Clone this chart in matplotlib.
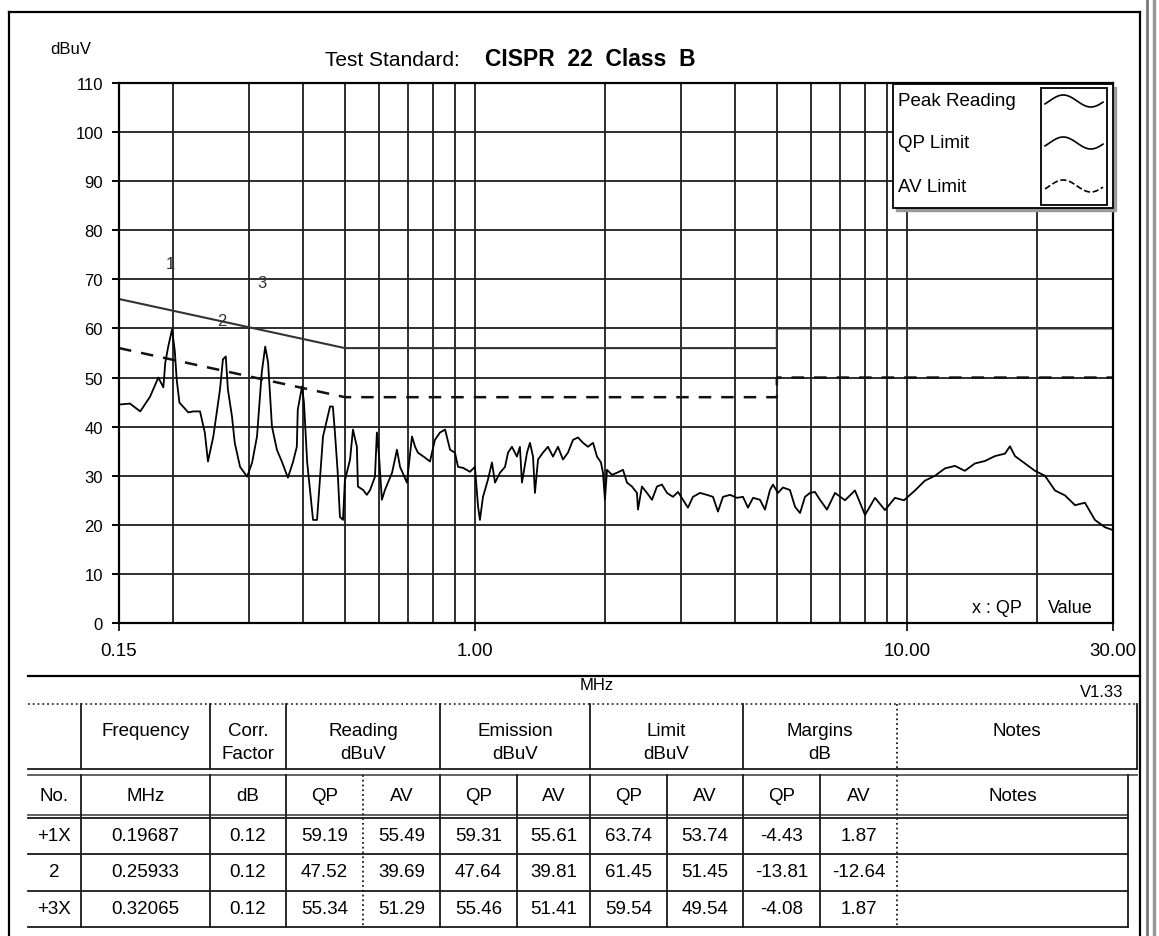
import numpy as np
import matplotlib
matplotlib.use('Agg')
import matplotlib.pyplot as plt
from matplotlib.ticker import LogLocator, NullFormatter

plt.rcParams['font.family'] = ['Liberation Sans', 'DejaVu Sans']

W, H = 1159, 937

# Peak reading trace (MHz, dBuV)
freq = [0.150, 0.159, 0.168, 0.177, 0.185, 0.190, 0.192, 0.195, 0.199, 0.202,
        0.204, 0.207, 0.211, 0.217, 0.223, 0.231, 0.237, 0.241, 0.248, 0.257,
        0.261, 0.265, 0.268, 0.274, 0.278, 0.286, 0.297, 0.305, 0.313, 0.321,
        0.327, 0.332, 0.339, 0.348, 0.358, 0.369, 0.379, 0.387, 0.389, 0.398,
        0.402, 0.409, 0.422, 0.431, 0.445, 0.462, 0.469, 0.474, 0.481, 0.487,
        0.495, 0.500, 0.514, 0.522, 0.533, 0.536, 0.551, 0.562, 0.572, 0.587,
        0.593, 0.600, 0.609, 0.619, 0.643, 0.660, 0.671, 0.696, 0.715, 0.727,
        0.738, 0.766, 0.787, 0.808, 0.830, 0.853, 0.876, 0.899, 0.914, 0.939,
        0.974, 1.000, 1.017, 1.027, 1.044, 1.072, 1.095, 1.113, 1.143, 1.174,
        1.193, 1.218, 1.251, 1.271, 1.285, 1.320, 1.341, 1.363, 1.377, 1.400,
        1.437, 1.476, 1.516, 1.557, 1.599, 1.642, 1.687, 1.732, 1.779, 1.827,
        1.877, 1.917, 1.958, 1.979, 2.000, 2.022, 2.076, 2.132, 2.202, 2.249,
        2.310, 2.372, 2.385, 2.436, 2.502, 2.570, 2.639, 2.710, 2.784, 2.874,
        2.952, 3.031, 3.113, 3.197, 3.319, 3.445, 3.557, 3.653, 3.752, 3.895,
        4.043, 4.174, 4.286, 4.404, 4.569, 4.693, 4.820, 4.898, 5.030, 5.165,
        5.361, 5.507, 5.657, 5.809, 5.965, 6.126, 6.292, 6.532, 6.816, 7.191,
        7.582, 8.000, 8.435, 8.897, 9.385, 9.846, 10.44, 11.01, 11.62, 12.25,
        12.92, 13.62, 14.37, 15.16, 15.99, 16.87, 17.32, 17.79, 18.77, 19.79,
        20.87, 22.02, 23.22, 24.50, 25.83, 27.24, 28.74, 29.83]
peak = [44.5, 44.7, 43.1, 46.1, 50.0, 48.0, 53.1, 56.3, 59.8, 55.3,
        49.6, 44.9, 44.1, 42.9, 43.1, 43.1, 38.8, 32.9, 38.0, 47.6,
        53.7, 54.3, 47.6, 42.0, 36.7, 31.8, 29.8, 32.7, 38.0, 51.0,
        56.3, 53.1, 40.0, 35.3, 32.7, 29.6, 32.7, 35.9, 43.5, 48.2,
        44.9, 32.7, 21.0, 21.0, 38.0, 44.1, 44.1, 39.0, 31.0, 21.6,
        21.0, 29.0, 33.3, 39.4, 35.9, 27.8, 27.1, 26.1, 27.1, 29.8,
        38.8, 33.9, 25.1, 27.1, 30.6, 35.3, 31.8, 28.6, 38.0, 35.9,
        34.7, 33.7, 32.9, 37.3, 38.8, 39.4, 35.3, 34.7, 31.8, 31.6,
        30.8, 31.8, 23.7, 21.0, 25.7, 29.2, 32.7, 28.6, 30.6, 31.8,
        34.7, 35.9, 33.9, 35.9, 28.6, 34.7, 36.7, 33.9, 26.5, 33.3,
        34.7, 35.9, 33.9, 35.9, 33.3, 34.7, 37.3, 37.8, 36.7, 35.9,
        36.7, 33.9, 32.7, 30.6, 25.1, 31.2, 30.2, 30.6, 31.2, 28.6,
        27.8, 26.5, 23.1, 27.8, 26.5, 25.1, 27.8, 28.2, 26.5, 25.7,
        26.7, 25.1, 23.5, 25.7, 26.5, 26.1, 25.7, 22.7, 25.7, 26.1,
        25.5, 25.7, 23.5, 25.5, 25.1, 23.1, 27.1, 28.2, 26.5, 27.6,
        27.1, 23.7, 22.4, 25.7, 26.5, 26.7, 25.1, 23.1, 26.5, 25.0,
        27.0, 22.0, 25.5, 23.0, 25.5, 25.0, 27.0, 29.0, 30.0, 31.5,
        32.0, 31.0, 32.5, 33.0, 34.0, 34.5, 36.0, 34.0, 32.5, 31.0,
        30.0, 27.0, 26.0, 24.0, 24.5, 21.0, 19.5, 19.0]

# CISPR 22 class B limits
lim_f = [0.15, 0.5, 0.5, 5, 5, 30]
qp_lim = [66, 56, 56, 56, 60, 60]
av_lim = [56, 46, 46, 46, 50, 50]

# marker table
mk_no = ['+1X', '2', '+3X']
mk_label = ['1', '2', '3']
mk_freq = [0.19687, 0.25933, 0.32065]
mk_corr = [0.12, 0.12, 0.12]
read_qp = [59.19, 47.52, 55.34]
read_av = [55.49, 39.69, 51.29]
emis_qp = [59.31, 47.64, 55.46]
emis_av = [55.61, 39.81, 51.41]
limit_qp = [63.74, 61.45, 59.54]
limit_av = [53.74, 51.45, 49.54]
marg_qp = [-4.43, -13.81, -4.08]
marg_av = [1.87, -12.64, 1.87]

yticks = list(range(0, 111, 10))
xticks = [0.15, 1, 10, 30]
xtick_labels = ['0.15', '1.00', '10.00', '30.00']


def px(x0, y0, x1, y1):
    return [x0 / W, 1 - y1 / H, (x1 - x0) / W, (y1 - y0) / H]


fig = plt.figure(figsize=(W / 100, H / 100), dpi=100)

# ---- main chart ----
ax = fig.add_axes(px(119, 84, 1113, 624))
ax.set_xscale('log')
ax.set_xlim(0.15, 30)
ax.set_ylim(0, 110)
ax.set_yticks(yticks)
ax.set_xticks(xticks)
ax.set_xticklabels(xtick_labels)
ax.xaxis.set_minor_locator(LogLocator(base=10, subs=range(2, 10)))
ax.xaxis.set_minor_formatter(NullFormatter())
ax.set_axisbelow(True)
ax.grid(which='both', axis='x', color='#1e1e1e', lw=1.3)
ax.grid(which='major', axis='y', color='#1e1e1e', lw=1.3)
ax.tick_params(axis='y', length=5, width=1.4, pad=6.5, labelsize=12)
ax.tick_params(axis='x', which='major', length=6, width=1.2, pad=8, labelsize=13.5)
ax.tick_params(axis='x', which='minor', length=0)
for s in ax.spines.values():
    s.set_linewidth(1.6)

ax.plot(lim_f, qp_lim, color='#333333', lw=1.5)
ax.plot(lim_f, av_lim, color='#111111', lw=1.8, dashes=(5, 4))
ax.plot(freq, peak, color='black', lw=1.3)

for f, q, lab in zip(mk_freq, emis_qp, mk_label):
    ax.text(f, q + 14, lab, fontsize=12, color='#333333', ha='center', va='center')

# ---- overlay in pixel coordinates ----
ov = fig.add_axes([0, 0, 1, 1])
ov.set_xlim(0, W)
ov.set_ylim(H, 0)
ov.axis('off')
ov.set_zorder(5)
ov.patch.set_alpha(0)

k = dict(color='black', lw=1.6)
ov.plot([9, 9], [13, H], **k)
ov.plot([9, 1140], [13, 13], **k)
ov.plot([1140, 1140], [13, H], **k)
ov.plot([28, 1140], [677, 677], **k)
ov.plot([1147, 1147], [0, H], color='#777777', lw=2)
ov.plot([1154, 1154], [0, H], color='#999999', lw=2.5)

ov.text(50, 50, 'dBuV', fontsize=12, ha='left', va='center')
ov.text(325, 60, 'Test Standard:', fontsize=15, ha='left', va='center')
ov.text(485, 60, 'CISPR  22  Class  B', fontsize=16.5, fontweight='bold',
        ha='left', va='center')
ov.text(597, 686, 'MHz', fontsize=12, ha='center', va='center')
ov.text(1102, 693, 'V1.33', fontsize=12, ha='center', va='center')
ov.text(972, 609, 'x : QP', fontsize=13, ha='left', va='center')
ov.text(1048, 609, 'Value', fontsize=13, ha='left', va='center')

# legend box
ov.add_patch(plt.Rectangle((896, 88), 220, 124, color='#9a9a9a', zorder=2))
ov.add_patch(plt.Rectangle((893, 85), 220, 124, facecolor='white',
                           edgecolor='black', lw=1.3, zorder=3))
ov.add_patch(plt.Rectangle((1041, 89), 66, 117, facecolor='white',
                           edgecolor='black', lw=1.3, zorder=4))
leg_items = [('Peak Reading', 102, '-'), ('QP Limit', 144, '-'), ('AV Limit', 187, '--')]
t = np.linspace(0, 1, 60)
for name, yc, ls in leg_items:
    ov.text(898, yc, name, fontsize=13.5, ha='left', va='center', zorder=5)
    ov.plot(1045 + 58 * t, yc - 6 * np.sin(2 * np.pi * (1.05 * t - 0.08)),
            color='black', lw=1.2, ls=ls, zorder=5)

# ---- table ----
tl = dict(color='#1a1a1a', lw=1.3)
ov.plot([28, 1137], [705, 705], color='#333333', lw=1.3, ls=':')
ov.plot([28, 1137], [770, 770], **tl)
ov.plot([28, 1137], [776, 776], color='#555555', lw=1.3)
ov.plot([28, 1128], [816, 816], color='#555555', lw=1.3)
ov.plot([28, 1128], [819, 819], **tl)
for yy in [855, 892, 928]:
    ov.plot([28, 1128], [yy, yy], **tl)

head_x = [81, 210, 286, 440, 590, 743, 897, 1137]
for xx in head_x:
    ov.plot([xx, xx], [705, 770], ls=':' if xx == 897 else '-', **tl)

col_x = [28, 81, 210, 286, 363, 440, 517, 590, 667, 743, 820, 897, 1128]
for xx in col_x[1:]:
    ov.plot([xx, xx], [776, 928], ls=':' if xx in (363, 897) else '-', **tl)

groups = [('Frequency', ''), ('Corr.', 'Factor'), ('Reading', 'dBuV'),
          ('Emission', 'dBuV'), ('Limit', 'dBuV'), ('Margins', 'dB'), ('Notes', '')]
for (a, b), x0, x1 in zip(groups, head_x[:-1], head_x[1:]):
    cx = (x0 + x1) / 2
    ov.text(cx, 732, a, fontsize=13.5, ha='center', va='center')
    if b:
        ov.text(cx, 755, b, fontsize=13.5, ha='center', va='center')

sub = ['No.', 'MHz', 'dB', 'QP', 'AV', 'QP', 'AV', 'QP', 'AV', 'QP', 'AV', 'Notes']
centers = [(a + b) / 2 for a, b in zip(col_x[:-1], col_x[1:])]
for s, cx in zip(sub, centers):
    ov.text(cx, 797, s, fontsize=13.5, ha='center', va='center')

row_y = [837, 873, 910]
for i, ry in enumerate(row_y):
    cells = [mk_no[i], '%.5f' % mk_freq[i], '%.2f' % mk_corr[i],
             '%.2f' % read_qp[i], '%.2f' % read_av[i],
             '%.2f' % emis_qp[i], '%.2f' % emis_av[i],
             '%.2f' % limit_qp[i], '%.2f' % limit_av[i],
             '%.2f' % marg_qp[i], '%.2f' % marg_av[i]]
    for s, cx in zip(cells, centers):
        ov.text(cx, ry, s, fontsize=13.5, ha='center', va='center')

fig.savefig('out.png', dpi=100)
